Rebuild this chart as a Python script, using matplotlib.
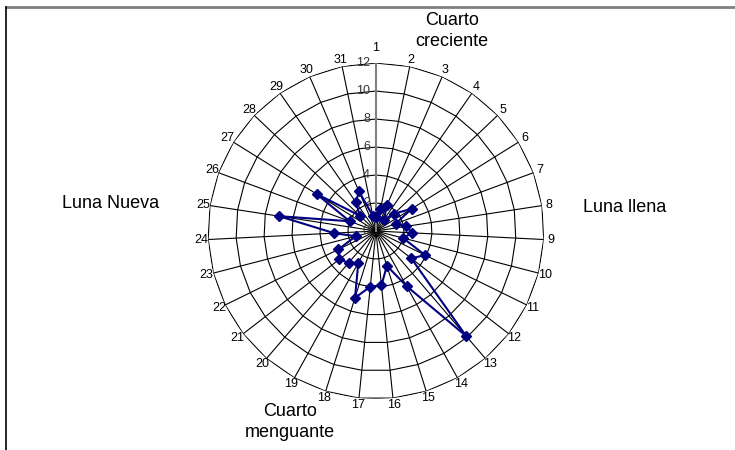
import numpy as np
import matplotlib
matplotlib.use("Agg")
import matplotlib.pyplot as plt
import matplotlib.transforms as mtransforms

plt.rcParams['font.family'] = ['Liberation Sans', 'DejaVu Sans']

# data: day of month -> value
days = list(range(1, 32))
values = [1.0, 1.6, 2.0, 1.0, 1.8, 3.0, 1.5, 2.2, 2.6, 2.0,
          3.9, 3.2, 9.9, 4.5, 2.6, 3.9, 4.0, 5.0, 2.6, 3.0,
          3.3, 3.0, 1.5, 3.0, 7.0, 2.0, 5.0, 1.6, 2.5, 3.1, 1.1]
r_ticks = [0, 2, 4, 6, 8, 10, 12]
phase_labels = ["Cuarto\ncreciente", "Luna llena", "Cuarto\nmenguante", "Luna Nueva"]

n = len(days)
theta = np.arange(n) * 2 * np.pi / n

fig = plt.figure(figsize=(7.35, 4.5), dpi=100)
ax = fig.add_axes([0.283, 0.1133, 0.457, 0.7467], projection='polar')
ax.set_theta_zero_location('N')
ax.set_theta_direction(-1)
ax.set_ylim(0, 12)
ax.grid(False)
ax.spines['polar'].set_visible(False)
ax.set_xticks([])
ax.set_yticks([])

# polygon gridlines (excel style radar)
th_closed = np.append(theta, theta[0])
for r in r_ticks[1:]:
    ax.plot(th_closed, np.full(n + 1, r), color='black', lw=0.8, zorder=1)
# spokes
for t in theta[1:]:
    ax.plot([t, t], [0, 12], color='black', lw=0.8, zorder=1)
ax.plot([0, 0], [0, 12], color='#808080', lw=1.5, zorder=1)

# radial tick labels
off = mtransforms.offset_copy(ax.transData, fig=fig, x=-6, y=0, units='dots')
for r in r_ticks:
    ax.text(0, r, str(r), transform=off, ha='right', va='center',
            fontsize=9, color='#333333', zorder=2)

# category labels
for t, d in zip(theta, days):
    r_lab = 13.1 if d == 1 else 12.5
    ax.text(t, r_lab, str(d), ha='center', va='center', fontsize=9,
            clip_on=False)

# data series
v_closed = values + values[:1]
ax.plot(th_closed, v_closed, color='#000080', lw=1.5, marker='D',
        markersize=5.5, zorder=3)

# moon phase labels
fig.text(452 / 735, 1 - 31 / 450, phase_labels[0], ha='center', va='center',
         fontsize=13, linespacing=1.3)
fig.text(625 / 735, 1 - 208 / 450, phase_labels[1], ha='center', va='center',
         fontsize=13)
fig.text(290 / 735, 1 - 422 / 450, phase_labels[2], ha='center', va='center',
         fontsize=13, linespacing=1.3)
fig.text(111 / 735, 1 - 203 / 450, phase_labels[3], ha='center', va='center',
         fontsize=13)

# frame lines (top and left only)
fig.add_artist(plt.Line2D([6 / 735, 1], [1 - 6.5 / 450, 1 - 6.5 / 450],
                          color='#808080', lw=2, transform=fig.transFigure))
fig.add_artist(plt.Line2D([6 / 735, 6 / 735], [0, 1 - 6.5 / 450],
                          color='black', lw=1.2, transform=fig.transFigure))

fig.savefig('out.png', dpi=100)
